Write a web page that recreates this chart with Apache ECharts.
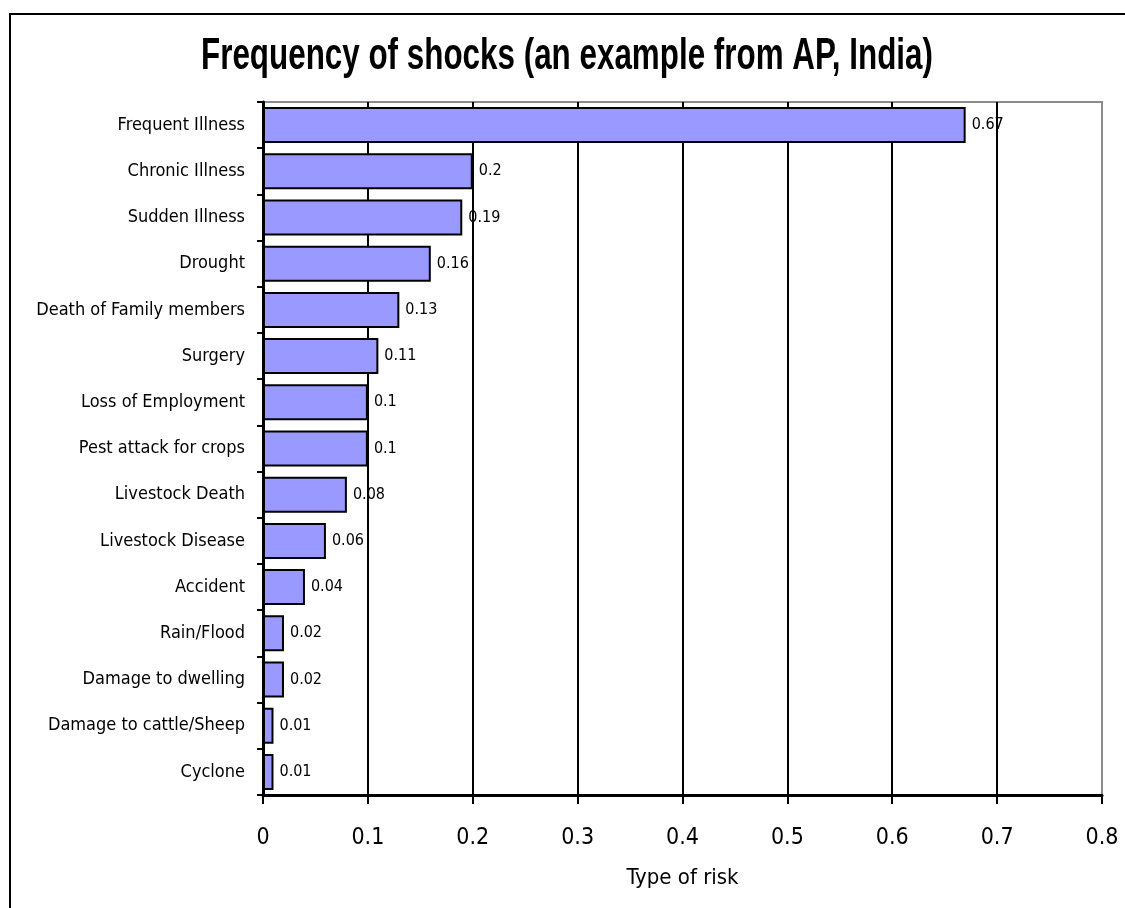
<!DOCTYPE html>
<html>
<head>
<meta charset="utf-8">
<script src="https://cdn.jsdelivr.net/npm/echarts@6/dist/echarts.min.js"></script>
<style>
html,body{margin:0;padding:0;background:#fff;}
#c{width:1125px;height:908px;}
</style>
</head>
<body>
<div id="c"></div>
<script>
const categories = ["Frequent Illness","Chronic Illness","Sudden Illness","Drought","Death of Family members","Surgery","Loss of Employment","Pest attack for crops","Livestock Death","Livestock Disease","Accident","Rain/Flood","Damage to dwelling","Damage to cattle/Sheep","Cyclone"];
const values = [0.67,0.2,0.19,0.16,0.13,0.11,0.1,0.1,0.08,0.06,0.04,0.02,0.02,0.01,0.01];
const xTicks = [0,0.1,0.2,0.3,0.4,0.5,0.6,0.7,0.8];
const titleText = 'Frequency of shocks (an example from AP, India)';

const FONT = "'DejaVu Sans Condensed','Liberation Sans Narrow',sans-serif";
const TITLE_FONT = "bold 44px 'Liberation Sans', Arial, sans-serif";

// measure title to fit the reference's width (condensed look)
const mctx = document.createElement('canvas').getContext('2d');
mctx.font = TITLE_FONT;
const titleScale = 732 / mctx.measureText(titleText).width;

const chart = echarts.init(document.getElementById('c'));
chart.setOption({
  backgroundColor: '#fff',
  animation: false,
  graphic: [{
    type: 'rect', silent: true, z: -1,
    shape: {x: 10, y: 14, width: 1300, height: 1100},
    style: {fill: 'none', stroke: '#000', lineWidth: 2}
  }, {
    type: 'text', silent: true,
    x: 567, y: 57, scaleX: titleScale, scaleY: 1,
    style: {text: titleText, font: TITLE_FONT, fill: '#000', textAlign: 'center', textVerticalAlign: 'middle', verticalAlign: 'middle'}
  }],
  grid: {left: 263, right: 23, top: 102, bottom: 113, show: true, borderColor: '#8c8c8c', borderWidth: 2, containLabel: false},
  xAxis: {
    type: 'value', min: 0, max: 0.8, interval: 0.1,
    name: 'Type of risk', nameLocation: 'middle', nameGap: 72,
    nameTextStyle: {fontFamily: FONT, fontSize: 22, color: '#000'},
    axisLine: {show: true, lineStyle: {color: '#000', width: 3}},
    axisTick: {show: true, length: 9, lineStyle: {color: '#000', width: 2}},
    axisLabel: {fontFamily: FONT, fontSize: 23, color: '#000', margin: 32,
      formatter: v => { const t = xTicks.find(x => Math.abs(x - v) < 1e-9); return t === undefined ? '' : String(t); }},
    splitLine: {show: true, showMinLine: false, showMaxLine: false, lineStyle: {color: '#000', width: 2}}
  },
  yAxis: {
    type: 'category', data: categories, inverse: true,
    axisLine: {show: true, lineStyle: {color: '#000', width: 3}},
    axisTick: {show: true, length: 6, lineStyle: {color: '#000', width: 2}},
    axisLabel: {fontFamily: FONT, fontSize: 18, color: '#000', margin: 18},
    splitLine: {show: false}
  },
  series: [{
    type: 'bar', data: values, barCategoryGap: '22%',
    itemStyle: {color: '#9999FF', borderColor: '#000', borderWidth: 2},
    label: {show: true, position: 'right', distance: 6, fontFamily: FONT, fontSize: 16, color: '#000'}
  }]
});
</script>
</body>
</html>
